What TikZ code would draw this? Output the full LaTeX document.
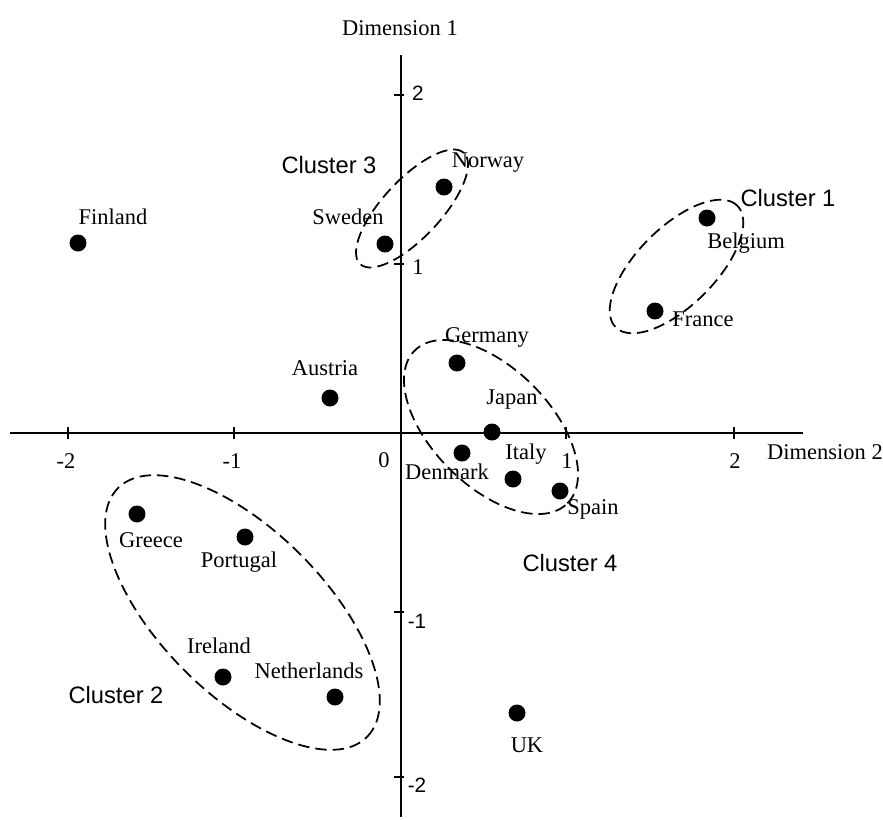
\documentclass[tikz,border=0pt]{standalone}
\usepackage{fontspec}
\setmainfont{Liberation Serif}
\newfontfamily\arialf{Liberation Sans}
\begin{document}
\begin{tikzpicture}[x=0.02cm,y=0.02cm,
  dot/.style={circle,fill=black,inner sep=0pt,minimum size=0.34cm},
  lbl/.style={inner sep=0pt,font=\fontsize{12.8}{14}\selectfont},
  clbl/.style={inner sep=0pt,font=\arialf\fontsize{13.5}{15}\selectfont},
  stlbl/.style={inner sep=0pt,font=\arialf\fontsize{11.8}{13}\selectfont},
  axis/.style={line width=0.9pt},
  clus/.style={line width=1pt,dash pattern=on 6.5pt off 3.4pt},
]
\useasboundingbox (0,0) rectangle (883,-819);
% axes
\coordinate (xl) at (10,-433); \coordinate (xr) at (803,-433);
\coordinate (yt) at (401,-55); \coordinate (yb) at (401,-817);
\draw[axis] (xl) -- (xr);
\draw[axis] (yt) -- (yb);
\foreach \x in {68,234,566,734} \draw[axis] (\x,-427) -- (\x,-439);
\foreach \y in {95,264,612,777} \draw[axis] (394,-\y) -- (404,-\y);
% tick labels
\node[lbl] (xm2) at (66,-461) {-2};
\node[lbl] (xm1) at (232,-461) {-1};
\node[lbl] (x0) at (384,-460) {0};
\node[lbl] (x1) at (567,-461) {1};
\node[lbl] (x2) at (735,-461) {2};
\node[stlbl] (y2) at (418,-93) {2};
\node[lbl] (y1) at (418,-267) {1};
\node[stlbl] (ym1) at (417,-621) {-1};
\node[stlbl] (ym2) at (417,-785) {-2};
\node[lbl] (d1) at (400,-28) {Dimension 1};
\node[lbl] (d2) at (825,-452) {Dimension 2};
% cluster ellipses
\coordinate (c1) at (676.5,-266.5);
\coordinate (c2) at (242.5,-612.5);
\coordinate (c3) at (412,-208.5);
\coordinate (c4) at (491,-427);
\draw[clus,rotate around={45:(c1)}] (c1) ellipse [x radius=86, y radius=39];
\draw[clus,rotate around={-45:(c2)}] (c2) ellipse [x radius=176, y radius=82];
\draw[clus,rotate around={47:(c3)}] (c3) ellipse [x radius=76, y radius=29];
\draw[clus,rotate around={-45:(c4)}] (c4) ellipse [x radius=108, y radius=59];
% cluster labels
\node[clbl] (cl1) at (788,-198) {Cluster 1};
\node[clbl] (cl2) at (116,-695) {Cluster 2};
\node[clbl] (cl3) at (329,-165) {Cluster 3};
\node[clbl] (cl4) at (570,-563) {Cluster 4};
% points
\node[dot] (pfin) at (78,-243) {};
\node[dot] (pswe) at (385,-244) {};
\node[dot] (pnor) at (444,-187) {};
\node[dot] (pbel) at (707,-218) {};
\node[dot] (pfra) at (655,-311) {};
\node[dot] (pger) at (457,-363) {};
\node[dot] (paus) at (330,-398) {};
\node[dot] (pjap) at (492,-432) {};
\node[dot] (pden) at (462,-453) {};
\node[dot] (pita) at (513,-479) {};
\node[dot] (pspa) at (560,-491) {};
\node[dot] (pgre) at (137,-514) {};
\node[dot] (ppor) at (245,-537) {};
\node[dot] (pire) at (223,-677) {};
\node[dot] (pnet) at (335,-697) {};
\node[dot] (puk) at (517,-713) {};
% point labels
\node[lbl] (lfin) at (113,-217) {Finland};
\node[lbl] (lswe) at (348,-217) {Sweden};
\node[lbl] (lnor) at (488,-163) {Norway};
\node[lbl] (lbel) at (746,-243) {Belgium};
\node[lbl] (lfra) at (703,-319) {France};
\node[lbl] (lger) at (487,-337) {Germany};
\node[lbl] (laus) at (325,-368) {Austria};
\node[lbl] (ljap) at (512,-400) {Japan};
\node[lbl] (lden) at (447,-472) {Denmark};
\node[lbl] (lita) at (526,-454) {Italy};
\node[lbl] (lspa) at (593,-509) {Spain};
\node[lbl] (lgre) at (151,-540) {Greece};
\node[lbl] (lpor) at (239,-562) {Portugal};
\node[lbl] (lire) at (219,-646) {Ireland};
\node[lbl] (lnet) at (309,-671) {Netherlands};
\node[lbl] (luk) at (527,-745) {UK};
\end{tikzpicture}
\end{document}
